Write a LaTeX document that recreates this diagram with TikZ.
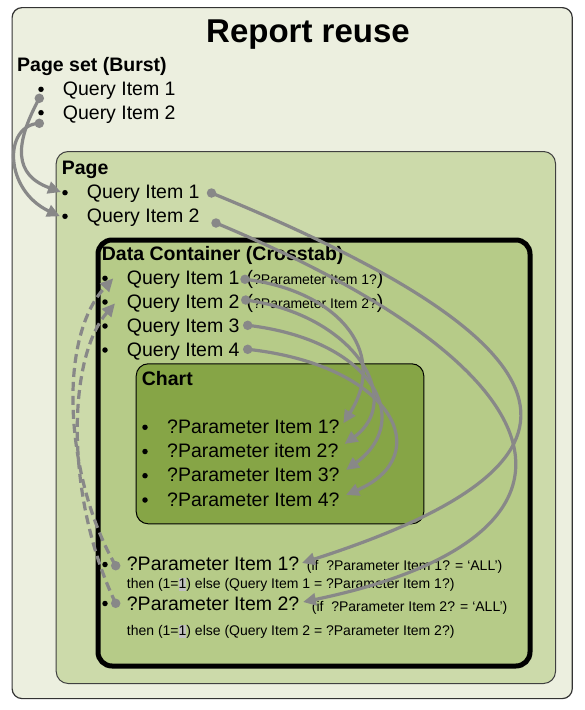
\documentclass[tikz,border=0pt]{standalone}
\usepackage{fontspec}
\setmainfont{Liberation Sans}
\usetikzlibrary{arrows.meta}
\definecolor{outerfill}{HTML}{ECEFDF}
\definecolor{pagefill}{HTML}{CCDAAA}
\definecolor{dcfill}{HTML}{B6CB88}
\definecolor{chartfill}{HTML}{86A546}
\definecolor{conngray}{HTML}{888888}
\definecolor{hlgray}{HTML}{C0C0C0}
\newcommand\hlone{{\setlength{\fboxsep}{0pt}\colorbox{hlgray}{\vphantom{(}1}}}
\newcommand\bigsz{\fontsize{19.5}{23}\selectfont}
\newcommand\smallsz{\fontsize{14}{17}\selectfont}
\begin{document}
\begin{tikzpicture}[x=1pt,y=-1pt,
  box/.style={rectangle, anchor=north west, inner sep=0pt, rounded corners=#1},
  txt/.style={anchor=base west, inner sep=0pt, font=\bigsz},
  hdr/.style={anchor=base west, inner sep=0pt, font=\bfseries\fontsize{19.5}{23}\selectfont},
  smalltxt/.style={anchor=base west, inner sep=0pt, font=\smallsz},
  bul/.style={circle, fill=black, inner sep=0pt, minimum size=5.5pt},
  gdot/.style={circle, fill=conngray, inner sep=0pt, minimum size=9.5pt},
  conn/.style={draw=conngray, line width=3.2pt, -{Triangle[length=13pt,width=12pt]}},
  dashconn/.style={conn, dash pattern=on 9pt off 5pt}
]
\useasboundingbox (0,0) rectangle (585,710);
\fill[white] (0,0) rectangle (585,710);

% containers
\node[box=10pt, draw=black!80, line width=1.2pt, fill=outerfill,
  minimum width=560.2pt, minimum height=691pt] (outer) at (11.5,7) {};
\node[box=12pt, draw=black!75, line width=1pt, fill=pagefill,
  minimum width=499.3pt, minimum height=532pt] (page) at (55.7,151) {};
\node[box=14pt, draw=black, line width=5pt, fill=dcfill,
  minimum width=432pt, minimum height=426pt] (dc) at (95.5,237.5) {};
\node[box=12pt, draw=black, line width=1pt, fill=chartfill,
  minimum width=287.6pt, minimum height=160pt] (chart) at (135.7,363.3) {};

% title
\node[anchor=base, inner sep=0pt, font=\bfseries\fontsize{33}{38}\selectfont] (title) at (308,42.7) {Report reuse};

% page set
\node[hdr] (pshdr) at (17,71) {Page set (Burst)};
\node[bul] (psb1) at (41,89.3) {};
\node[bul] (psb2) at (41,112.7) {};
\node[txt] (ps1) at (62.7,95) {Query Item 1};
\node[txt] (ps2) at (62.7,119) {Query Item 2};

% page
\node[hdr] (pghdr) at (61.7,174) {Page};
\node[bul] (pgb1) at (65,192.7) {};
\node[bul] (pgb2) at (65,216.3) {};
\node[txt] (pg1) at (86.7,198.3) {Query Item 1};
\node[txt] (pg2) at (86.7,222) {Query Item 2};

% data container
\node[hdr] (dchdr) at (101.7,260) {Data Container (Crosstab)};
\node[bul] (dcb1) at (105,278.3) {};
\node[bul] (dcb2) at (105,302) {};
\node[bul] (dcb3) at (105,326) {};
\node[bul] (dcb4) at (105,350) {};
\node[txt] (dc1) at (126.7,284.3) {Query Item 1};
\node[txt] (dc2) at (126.7,308) {Query Item 2};
\node[txt] (dc3) at (126.7,332) {Query Item 3};
\node[txt] (dc4) at (126.7,356) {Query Item 4};
\node[txt] (dcp1) at (246.5,284.3) {({\smallsz ?Parameter Item 1?})};
\node[txt] (dcp2) at (246.5,308) {({\smallsz ?Parameter Item 2?})};

% chart
\node[hdr] (chhdr) at (141.7,385) {Chart};
\node[bul] (chb1) at (145,427.3) {};
\node[bul] (chb2) at (145,451.5) {};
\node[bul] (chb3) at (145,475.7) {};
\node[bul] (chb4) at (145,500) {};
\node[txt] (ch1) at (167,433.5) {?Parameter Item 1?};
\node[txt] (ch2) at (167,457.5) {?Parameter item 2?};
\node[txt] (ch3) at (167,481.7) {?Parameter Item 3?};
\node[txt] (ch4) at (167,506) {?Parameter Item 4?};

% bottom parameters
\node[bul] (bb1) at (105,564.5) {};
\node[bul] (bb2) at (105,603.5) {};
\node[txt] (bp1) at (126.7,570) {?Parameter Item 1?};
\node[smalltxt] (bp1c) at (306.7,570) {(if\ \ ?Parameter Item 1? = ‘ALL’)};
\node[smalltxt] (bp1t) at (126.7,588.3) {then (1=\hlone) else (Query Item 1 = ?Parameter Item 1?)};
\node[txt] (bp2) at (126.7,610) {?Parameter Item 2?};
\node[smalltxt] (bp2c) at (311.7,611.7) {(if\ \ ?Parameter Item 2? = ‘ALL’)};
\node[smalltxt] (bp2t) at (126.7,635) {then (1=\hlone) else (Query Item 2 = ?Parameter Item 2?)};

% connector endpoints
\node[gdot] (psd1) at (39.3,98.3) {};
\node[gdot] (psd2) at (39.3,123.3) {};
\node[gdot] (pd1) at (211.5,193) {};
\node[gdot] (pd2) at (216,223) {};
\node[gdot] (dd1) at (245,279.3) {};
\node[gdot] (dd2) at (245.7,300) {};
\node[gdot] (dd3) at (247.7,325.3) {};
\node[gdot] (dd4) at (247.7,349.3) {};
\node[gdot] (bd1) at (115.7,565.7) {};
\node[gdot] (bd2) at (115.7,603.3) {};
\coordinate (pst1) at (61,192);
\coordinate (pst2) at (60,216.3);
\coordinate (bt1) at (302,563);
\coordinate (bt2) at (303,602);
\coordinate (ct1) at (343.3,423.3);
\coordinate (ct2) at (344.5,444);
\coordinate (ct3) at (346,470);
\coordinate (ct4) at (346,495);
\coordinate (dt1) at (113.3,278.3);
\coordinate (dt2) at (115,303.3);

% connectors
\draw[conn] (psd1.center) .. controls (14,145) and (14,175) .. (pst1);
\draw[conn] (psd2.center) .. controls (3,125) and (4,190) .. (pst2);
\draw[conn] (pd1.center) .. controls (620,360) and (592,470) .. (bt1);
\draw[conn] (pd2.center) .. controls (592,380) and (602,540) .. (bt2);
\draw[conn] (dd1.center) .. controls (335,290) and (390,350) .. (ct1);
\draw[conn] (dd2.center) .. controls (355,315) and (405,400) .. (ct2);
\draw[conn] (dd3.center) .. controls (372,340) and (415,420) .. (ct3);
\draw[conn] (dd4.center) .. controls (392,365) and (438,455) .. (ct4);
\draw[dashconn] (bd1.center) .. controls (66,480) and (56,340) .. (dt1);
\draw[dashconn] (bd2.center) .. controls (66,500) and (66,360) .. (dt2);
\end{tikzpicture}
\end{document}
